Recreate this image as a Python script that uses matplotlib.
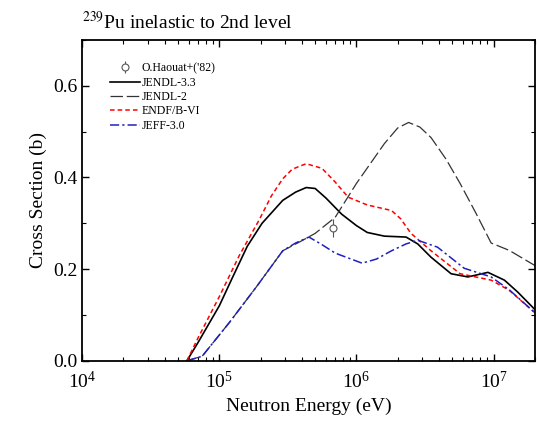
import numpy as np
import matplotlib.pyplot as plt
from matplotlib.ticker import MultipleLocator, LogLocator, NullFormatter

plt.rcParams['font.family'] = ['Liberation Serif', 'DejaVu Serif']
plt.rcParams['mathtext.fontset'] = 'stix'

# O.Haouat+('82) measurement
exp_e = [6.8e5]
exp_xs = [0.29]
exp_err = [0.02]

# JENDL-3.3
j33_e = [5.8e4, 7e4, 1e5, 1.24e5, 1.6e5, 2.05e5, 2.9e5, 3.6e5, 4.3e5, 5e5,
         6e5, 7.8e5, 1e6, 1.2e6, 1.6e6, 2.3e6, 2.8e6, 3.5e6, 4.9e6, 6.5e6,
         9.1e6, 1.2e7, 1.5e7, 2e7]
j33_xs = [0.0, 0.04, 0.12, 0.18, 0.25, 0.30, 0.35, 0.368, 0.378, 0.376,
          0.355, 0.32, 0.295, 0.28, 0.272, 0.27, 0.255, 0.226, 0.19, 0.183,
          0.193, 0.176, 0.15, 0.112]

# JENDL-2
j2_e = [5.8e4, 7.5e4, 1.18e5, 1.85e5, 2.9e5, 4e5, 5e5, 7e5, 1e6, 1.6e6,
        2e6, 2.4e6, 2.9e6, 3.5e6, 4.5e6, 5.7e6, 7.5e6, 9.6e6, 1.3e7, 2e7]
j2_xs = [0.0, 0.01, 0.083, 0.16, 0.24, 0.262, 0.278, 0.313, 0.387, 0.474,
         0.508, 0.52, 0.51, 0.487, 0.44, 0.387, 0.32, 0.257, 0.241, 0.208]

# ENDF/B-VI
endf_e = [5.8e4, 7e4, 1e5, 1.4e5, 1.95e5, 2.4e5, 2.9e5, 3.4e5, 4.3e5, 5.6e5,
          7e5, 8.7e5, 1.2e6, 1.8e6, 2.1e6, 2.5e6, 3.5e6, 5.7e6, 9.6e6, 1.3e7,
          2e7]
endf_xs = [0.0, 0.05, 0.14, 0.23, 0.307, 0.36, 0.397, 0.418, 0.43, 0.42,
           0.39, 0.357, 0.34, 0.328, 0.31, 0.278, 0.24, 0.19, 0.176, 0.154,
           0.105]

# JEFF-3.0
jeff_e = [5.8e4, 7.5e4, 1.18e5, 1.85e5, 2.9e5, 3.6e5, 4.5e5, 5.5e5, 7e5,
          1.1e6, 1.4e6, 1.8e6, 2.3e6, 2.8e6, 3.9e6, 6.1e6, 9.6e6, 1.3e7, 2e7]
jeff_xs = [0.0, 0.01, 0.083, 0.16, 0.24, 0.257, 0.27, 0.255, 0.235,
           0.213, 0.222, 0.24, 0.255, 0.263, 0.248, 0.202, 0.183, 0.155, 0.105]

fig = plt.figure(figsize=(5.37, 4.25), dpi=100)
ax = fig.add_axes([0.153, 0.151, 0.843, 0.755])

h_exp = ax.errorbar(exp_e, exp_xs, yerr=exp_err, fmt='o', mfc='white',
                    mec='#555555', ecolor='#555555', ms=5, mew=0.8,
                    elinewidth=0.8, capsize=0, zorder=5)
h33, = ax.plot(j33_e, j33_xs, color='black', lw=1.2)
h2, = ax.plot(j2_e, j2_xs, color='#333333', lw=0.9, ls=(0, (10, 3)))
hendf, = ax.plot(endf_e, endf_xs, color='red', lw=1.1, ls=(0, (3, 2)))
hjeff, = ax.plot(jeff_e, jeff_xs, color='#2020c0', lw=1.1,
                 ls=(0, (6, 2, 1.5, 2)))

ax.set_xscale('log')
ax.set_xlim(1e4, 2e7)
ax.set_ylim(0.0, 0.7)
ax.yaxis.set_major_locator(MultipleLocator(0.2))
ax.yaxis.set_minor_locator(MultipleLocator(0.1))
ax.xaxis.set_major_locator(LogLocator(base=10, numticks=10))
ax.xaxis.set_minor_locator(LogLocator(base=10, subs=np.arange(2, 10), numticks=20))
ax.xaxis.set_minor_formatter(NullFormatter())
ax.yaxis.set_major_formatter(plt.FormatStrFormatter('%.1f'))

ax.tick_params(which='both', direction='in', top=True, right=True, labelsize=14)
ax.tick_params(which='major', length=5, width=1)
ax.tick_params(which='minor', length=3, width=0.8)
ax.tick_params(axis='x', pad=7)
for s in ax.spines.values():
    s.set_linewidth(1.3)

ax.set_xlabel('Neutron Energy (eV)', fontsize=14)
ax.set_ylabel('Cross Section (b)', fontsize=14)
ax.text(0.0, 1.02, r'$^{239}$Pu inelastic to 2nd level', transform=ax.transAxes,
        fontsize=14, ha='left', va='bottom')

ax.legend([h_exp, h33, h2, hendf, hjeff],
          ["O.Haouat+('82)", 'JENDL-3.3', 'JENDL-2', 'ENDF/B-VI', 'JEFF-3.0'],
          loc='upper left', bbox_to_anchor=(0.05, 0.945), frameon=False,
          fontsize=8.5, handlelength=2.6, handletextpad=0.1, labelspacing=0.2,
          borderaxespad=0)

fig.savefig('out.png', dpi=100)
